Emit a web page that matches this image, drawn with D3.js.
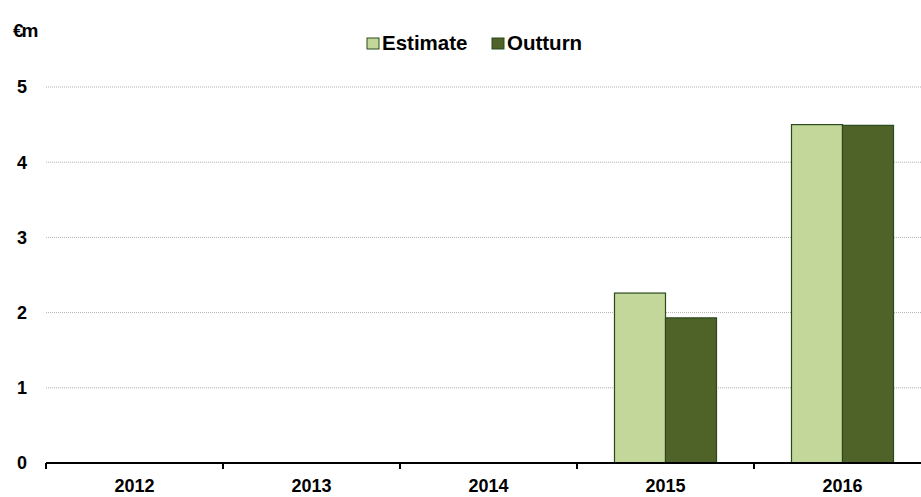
<!DOCTYPE html>
<html>
<head>
<meta charset="utf-8">
<script src="https://cdn.jsdelivr.net/npm/d3@7"></script>
<style>
  body { margin: 0; background: #fff; }
  text { font-family: "Liberation Sans", Arial, sans-serif; font-weight: bold; fill: #000; }
</style>
</head>
<body>
<div id="chart"></div>
<script>
// Chart data
var years = ["2012", "2013", "2014", "2015", "2016"];
var estimate = [null, null, null, 2.26, 4.5];
var outturn = [null, null, null, 1.93, 4.49];
var seriesNames = ["Estimate", "Outturn"];
var yTicks = [0, 1, 2, 3, 4, 5];

var width = 921, height = 497;
var margin = { top: 87, right: -10, bottom: 34, left: 46 };
var plotW = width - margin.left - margin.right;
var plotH = height - margin.top - margin.bottom;

var colors = { "Estimate": "#c4d79b", "Outturn": "#4f6228" };

var svg = d3.select("#chart")
    .append("svg")
    .attr("width", width)
    .attr("height", height);

var g = svg.append("g")
    .attr("transform", "translate(" + margin.left + "," + margin.top + ")");

// Scales
var xScale = d3.scaleBand()
    .domain(years)
    .range([0, plotW]);

var xInner = d3.scaleBand()
    .domain(seriesNames)
    .range([0, xScale.bandwidth()])
    .paddingOuter(0.735);

var yScale = d3.scaleLinear()
    .domain([0, 5])
    .range([plotH, 0]);

// Gridlines
g.selectAll(".grid")
    .data(yTicks.filter(function (d) { return d > 0; }))
    .enter()
    .append("line")
    .attr("x1", 0)
    .attr("x2", plotW)
    .attr("y1", function (d) { return yScale(d); })
    .attr("y2", function (d) { return yScale(d); })
    .style("stroke", "#b0b0b0")
    .style("stroke-width", 1)
    .style("stroke-dasharray", "1,1");

// Y labels
g.selectAll(".ylab")
    .data(yTicks)
    .enter()
    .append("text")
    .attr("x", -19)
    .attr("y", function (d) { return yScale(d); })
    .attr("dy", "0.35em")
    .attr("text-anchor", "end")
    .style("font-size", "18px")
    .text(function (d) { return d; });

// Bars
var rows = [];
years.forEach(function (y, i) {
    rows.push({ year: y, series: "Estimate", value: estimate[i] });
    rows.push({ year: y, series: "Outturn", value: outturn[i] });
});

g.selectAll(".bar")
    .data(rows.filter(function (d) { return d.value != null; }))
    .enter()
    .append("rect")
    .attr("x", function (d) { return xScale(d.year) + xInner(d.series); })
    .attr("y", function (d) { return yScale(d.value); })
    .attr("width", xInner.bandwidth())
    .attr("height", function (d) { return plotH - yScale(d.value); })
    .style("fill", function (d) { return colors[d.series]; })
    .style("stroke", "#2a4a1e")
    .style("stroke-width", 1.2);

// X axis
var xAxis = g.append("g")
    .attr("transform", "translate(0," + plotH + ")");

xAxis.append("line")
    .attr("x1", 0)
    .attr("x2", plotW)
    .style("stroke", "#000")
    .style("stroke-width", 2);

xAxis.selectAll(".tick")
    .data(years)
    .enter()
    .append("line")
    .attr("x1", function (d) { return xScale(d); })
    .attr("x2", function (d) { return xScale(d); })
    .attr("y1", 0)
    .attr("y2", 6)
    .style("stroke", "#000")
    .style("stroke-width", 2);

xAxis.selectAll(".xlab")
    .data(years)
    .enter()
    .append("text")
    .attr("x", function (d) { return xScale(d) + xScale.bandwidth() / 2; })
    .attr("y", 29)
    .attr("text-anchor", "middle")
    .style("font-size", "18px")
    .text(function (d) { return d; });

// Unit label
svg.append("text")
    .attr("x", 13)
    .attr("y", 37)
    .style("font-size", "19px")
    .style("letter-spacing", "-2px")
    .text("€m");

// Legend
var legendX = [367, 492];
var legend = svg.selectAll(".legend")
    .data(seriesNames)
    .enter()
    .append("g")
    .attr("transform", function (d, i) { return "translate(" + legendX[i] + ",38)"; });

legend.append("rect")
    .attr("width", 12)
    .attr("height", 11)
    .style("fill", function (d) { return colors[d]; })
    .style("stroke", "#2a4a1e")
    .style("stroke-width", 1);

legend.append("text")
    .attr("x", 15)
    .attr("y", 12)
    .style("font-size", "20.5px")
    .text(function (d) { return d; });
</script>
</body>
</html>
